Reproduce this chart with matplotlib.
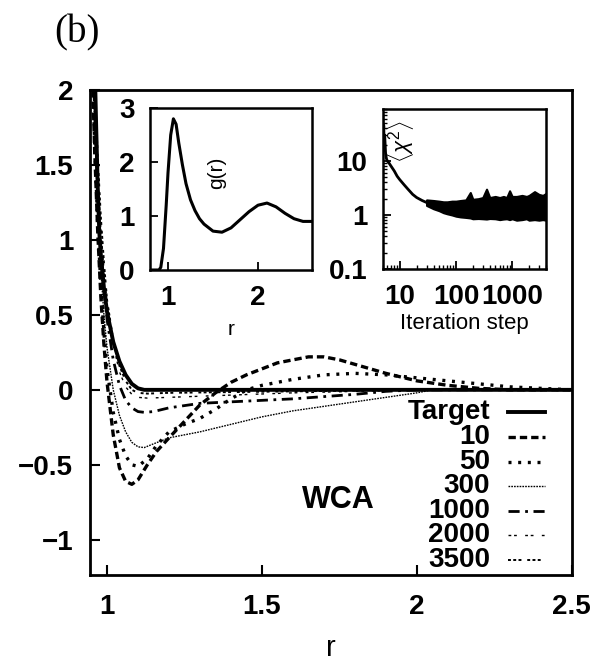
import numpy as np
import matplotlib
matplotlib.use("Agg")
import matplotlib.pyplot as plt

plt.rcParams['font.family'] = ['Liberation Sans', 'DejaVu Sans']
plt.rcParams['mathtext.fontset'] = 'custom'
plt.rcParams['mathtext.rm'] = 'Liberation Sans'
plt.rcParams['mathtext.it'] = 'Liberation Sans:italic'

# main panel: trial potentials at several iteration steps
r_target = [0.955, 0.96, 0.965, 0.97, 0.975, 0.98, 0.99, 1.0, 1.02, 1.04, 1.06, 1.08, 1.1, 1.12, 1.5, 2.0, 2.5]
u_target = [2.6, 2.2, 1.75, 1.35, 1.05, 0.9, 0.68, 0.52, 0.32, 0.19, 0.1, 0.04, 0.01, 0.0, 0.0, 0.0, 0.0]

r_10 = [0.95, 0.96, 0.97, 0.98, 0.99, 1.0, 1.02, 1.04, 1.06, 1.08, 1.1, 1.13, 1.16, 1.2, 1.25, 1.3,
        1.35, 1.4, 1.45, 1.5, 1.55, 1.6, 1.65, 1.7, 1.75, 1.8, 1.85, 1.9, 2.0, 2.1, 2.2, 2.3, 2.5]
u_10 = [2.3, 1.6, 1.05, 0.62, 0.3, 0.05, -0.3, -0.52, -0.61, -0.63, -0.6, -0.5, -0.41, -0.32, -0.21, -0.1,
        -0.02, 0.05, 0.1, 0.14, 0.18, 0.2, 0.22, 0.22, 0.2, 0.17, 0.14, 0.11, 0.06, 0.03, 0.01, 0.0, 0.0]

r_50 = [0.95, 0.96, 0.97, 0.98, 0.99, 1.0, 1.02, 1.04, 1.06, 1.08, 1.1, 1.13, 1.16, 1.2, 1.25, 1.3,
        1.35, 1.4, 1.45, 1.5, 1.6, 1.7, 1.8, 1.9, 2.0, 2.1, 2.2, 2.3, 2.4, 2.5]
u_50 = [2.3, 1.65, 1.1, 0.7, 0.38, 0.14, -0.15, -0.33, -0.44, -0.5, -0.51, -0.46, -0.37, -0.28, -0.23, -0.19,
        -0.13, -0.06, 0.0, 0.03, 0.07, 0.1, 0.11, 0.1, 0.08, 0.06, 0.04, 0.02, 0.01, 0.0]

r_300 = [0.95, 0.96, 0.97, 0.98, 0.99, 1.0, 1.02, 1.04, 1.06, 1.08, 1.1, 1.12, 1.15, 1.2, 1.3, 1.4,
         1.5, 1.6, 1.7, 1.8, 1.9, 2.0, 2.05, 2.5]
u_300 = [2.4, 1.75, 1.2, 0.8, 0.5, 0.28, 0.0, -0.17, -0.28, -0.35, -0.38, -0.385, -0.36, -0.32, -0.28, -0.23,
         -0.18, -0.14, -0.11, -0.08, -0.05, -0.02, 0.0, 0.0]

r_1000 = [0.95, 0.96, 0.97, 0.98, 0.99, 1.0, 1.02, 1.04, 1.06, 1.08, 1.1, 1.12, 1.15, 1.2, 1.3, 1.4,
          1.5, 1.6, 1.7, 1.8, 1.9, 2.0, 2.5]
u_1000 = [2.5, 1.85, 1.3, 0.95, 0.68, 0.47, 0.2, 0.03, -0.07, -0.12, -0.145, -0.15, -0.145, -0.12, -0.09, -0.08,
          -0.07, -0.06, -0.045, -0.03, -0.01, 0.0, 0.0]

r_late = [0.95, 0.96, 0.97, 0.98, 0.99, 1.0, 1.02, 1.04, 1.06, 1.08, 1.1, 1.13, 1.2, 1.4, 1.6, 1.8, 2.0, 2.5]
u_2000 = [2.55, 1.95, 1.45, 1.08, 0.8, 0.58, 0.3, 0.12, 0.02, -0.03, -0.05, -0.055, -0.05, -0.035, -0.02, -0.01, 0.0, 0.0]
u_3500 = [2.6, 2.05, 1.55, 1.15, 0.85, 0.6, 0.33, 0.16, 0.06, 0.0, -0.02, -0.025, -0.02, -0.015, -0.01, -0.005, 0.0, 0.0]

# inset 1: target radial distribution function
r_g = [0.8, 0.9, 0.92, 0.95, 0.98, 1.0, 1.03, 1.06, 1.09, 1.12, 1.16, 1.2, 1.25, 1.3, 1.35, 1.4,
       1.5, 1.6, 1.7, 1.8, 1.9, 2.0, 2.1, 2.2, 2.3, 2.4, 2.5, 2.6]
g_r = [0.0, 0.0, 0.05, 0.4, 1.2, 1.8, 2.5, 2.8, 2.7, 2.35, 1.95, 1.6, 1.3, 1.1, 0.95, 0.85,
       0.72, 0.7, 0.78, 0.93, 1.08, 1.2, 1.24, 1.17, 1.05, 0.95, 0.9, 0.9]

# inset 2: <chi^2> vs iteration step
step_early = [5, 5.1, 5.2, 5.3, 5.4, 5.6, 5.8, 6, 6.5, 7, 8, 9, 10, 12, 14, 17, 20, 25, 30]
chi_early = [70, 25, 45, 16, 30, 14, 11, 10, 9, 8, 6.5, 5.2, 4.5, 3.6, 3.0, 2.4, 2.1, 1.85, 1.7]
step_band = [30, 40, 50, 60, 70, 85, 100, 120, 150, 180, 200, 250, 300, 350, 400, 500, 600, 700,
             800, 900, 1000, 1200, 1500, 1800, 2000, 2500, 3000, 3500, 4000]
chi_hi = [1.9, 1.85, 1.8, 1.75, 1.75, 1.8, 1.8, 1.85, 1.9, 2.6, 1.95, 2.0, 2.1, 3.0, 2.1, 2.2, 2.1, 2.2,
          2.1, 2.8, 2.2, 2.2, 2.3, 2.2, 2.3, 2.7, 2.4, 2.3, 2.5]
chi_lo = [1.5, 1.3, 1.2, 1.1, 1.05, 1.0, 0.95, 0.92, 0.9, 0.88, 0.85, 0.86, 0.85, 0.84, 0.86, 0.85, 0.82, 0.84,
          0.85, 0.82, 0.85, 0.8, 0.82, 0.85, 0.8, 0.82, 0.8, 0.82, 0.8]

legend_labels = ['Target', '10', '50', '300', '1000', '2000', '3500']

fig = plt.figure(figsize=(6.0, 6.66), dpi=100)
ax = fig.add_axes([0.15, 0.137, 0.803, 0.728])

styles = {
    'Target': dict(lw=2.8, ls='-'),
    '10': dict(lw=2.4, ls=(0, (2.2, 1.2))),
    '50': dict(lw=2.4, ls=(0, (0.9, 2.0))),
    '300': dict(lw=1.0, ls=(0, (1.2, 0.8))),
    '1000': dict(lw=2.0, ls=(0, (4, 2, 1, 2))),
    '2000': dict(lw=1.0, ls=(0, (2, 2, 2, 6))),
    '3500': dict(lw=1.4, ls=(0, (1.5, 1.2, 1.5, 1.2, 1.5, 3))),
}

ax.plot(r_10, u_10, color='black', **styles['10'])
ax.plot(r_50, u_50, color='black', **styles['50'])
ax.plot(r_300, u_300, color='black', **styles['300'])
ax.plot(r_1000, u_1000, color='black', **styles['1000'])
ax.plot(r_late, u_2000, color='black', **styles['2000'])
ax.plot(r_late, u_3500, color='black', **styles['3500'])
ax.plot(r_target, u_target, color='black', zorder=5, **styles['Target'])

ax.set_xlim(0.945, 2.5)
ax.set_ylim(-1.233, 2.0)
ax.set_xticks([1, 1.5, 2, 2.5])
ax.set_xticklabels(['1', '1.5', '2', '2.5'], fontweight='bold')
ax.set_yticks([-1, -0.5, 0, 0.5, 1, 1.5, 2])
ax.set_yticklabels(['\u22121', '\u22120.5', '0', '0.5', '1', '1.5', '2'], fontweight='bold')
ax.tick_params(direction='in', length=7, width=1.5, labelsize=20)
ax.tick_params(axis='x', pad=14)
ax.tick_params(axis='y', pad=12)
for s in ax.spines.values():
    s.set_linewidth(2)
ax.set_xlabel('r', fontsize=21, labelpad=10)

# key: right-aligned labels, line samples to the right
row_top = 0.335
row_step = 0.0508
for i, lab in enumerate(legend_labels):
    yy = row_top - i * row_step
    ax.text(0.830, yy, lab, transform=ax.transAxes, fontsize=20, fontweight='bold',
            ha='right', va='center')
    ax.plot([0.867, 0.944], [yy, yy], transform=ax.transAxes, color='black',
            clip_on=False, **styles[lab])

ax.text(0.515, 0.155, 'WCA', transform=ax.transAxes, fontsize=22, fontweight='bold',
        ha='center', va='center')

fig.text(0.128, 0.95, '(b)', fontsize=28, family='Liberation Serif', ha='center', va='center')

# inset g(r)
ax1 = fig.add_axes([0.25, 0.5946, 0.27, 0.2432])
ax1.plot(r_g, g_r, color='black', lw=2.2)
ax1.set_xlim(0.8, 2.6)
ax1.set_ylim(0, 3)
ax1.set_xticks([1, 2])
ax1.set_xticklabels(['1', '2'], fontweight='bold')
ax1.set_yticks([0, 1, 2, 3])
ax1.set_yticklabels(['0', '1', '2', '3'], fontweight='bold')
ax1.tick_params(direction='in', length=6, width=1.3, labelsize=20, pad=11)
for s in ax1.spines.values():
    s.set_linewidth(1.8)
ax1.set_xlabel('r', fontsize=15, labelpad=6)
ax1.text(0.41, 0.6, 'g(r)', transform=ax1.transAxes, rotation=90, fontsize=15,
         ha='center', va='center')

# inset <chi^2>
ax2 = fig.add_axes([0.638, 0.596, 0.272, 0.240])
ax2.fill_between(step_band, chi_lo, chi_hi, color='black', lw=1.5, edgecolor='black')
ax2.plot(step_early, chi_early, color='black', lw=2.0)
ax2.set_xscale('log')
ax2.set_yscale('log')
ax2.set_xlim(5, 4000)
ax2.set_ylim(0.1, 90)
ax2.set_xticks([10, 100, 1000])
ax2.set_xticklabels(['10', '100', '1000'], fontweight='bold')
ax2.set_yticks([0.1, 1, 10])
ax2.set_yticklabels(['0.1', '1', '10'], fontweight='bold')
ax2.tick_params(which='major', direction='in', length=6, width=1.3, labelsize=20, pad=11)
ax2.tick_params(which='minor', direction='in', length=3, width=1.0)
for s in ax2.spines.values():
    s.set_linewidth(1.8)
ax2.set_xlabel('Iteration step', fontsize=16, labelpad=2)
ax2.text(0.11, 0.8, r'$\langle\chi^2\rangle$', transform=ax2.transAxes, rotation=90,
         fontsize=16, ha='center', va='center')

fig.savefig('out.png', dpi=100)
